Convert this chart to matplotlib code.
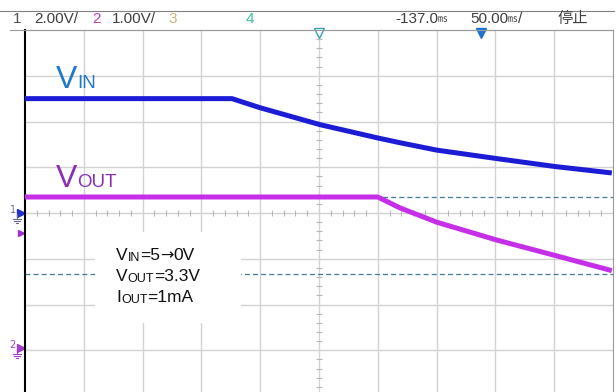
import matplotlib
matplotlib.use('Agg')
import matplotlib.pyplot as plt
from matplotlib.transforms import IdentityTransform
from matplotlib.patches import Rectangle
from matplotlib import font_manager

W, H = 616, 392

# time in ms from the left edge of the screen (50 ms/div, 10 div)
t_vin = [0, 176, 200, 251, 300, 319, 350, 401, 451, 499]
v_vin = [5.0, 5.0, 4.60, 3.86, 3.28, 3.07, 2.75, 2.38, 2.03, 1.75]
t_vout = [0, 300, 319, 350, 401, 451, 499]
v_vout = [3.3, 3.3, 3.06, 2.75, 2.36, 2.02, 1.69]

# channel settings: volts per division and ground offset in divisions
ch1_scale, ch1_offset = 2.0, 0.0
ch2_scale, ch2_offset = 1.0, -2.95
cursor_levels = [3.3, 1.62]   # ch2 volts

ms_per_div = 50
n_xdiv = 10

header_left = [("1", 13, '#505050'), ("2.00V/", 34, '#404040'),
               ("2", 92, '#c040c0'), ("1.00V/", 112, '#404040'),
               ("3", 168, '#c8b478'), ("4", 246, '#3cc0a0')]
header_right = [([("-137.0", 11), ("\u33b3", 7)], 395),
                ([("50.00", 11), ("\u33b3", 7), ("/", 11)], 470),
                ([("停止", 11)], 557)]

box_lines = [[("V", 'big'), ("IN", 'sub'), ("=5", 'big'), ("\u2192", 'arrow'), ("0V", 'big')],
             [("V", 'big'), ("OUT", 'sub'), ("=3.3V", 'big')],
             [("I", 'big'), ("OUT", 'sub'), ("=1mA", 'big')]]

installed = {f.name for f in font_manager.fontManager.ttflist}
narrow = 'Liberation Sans Narrow' if 'Liberation Sans Narrow' in installed else 'Liberation Sans'
hdr_family = [narrow, 'Noto Sans CJK SC', 'DejaVu Sans']
lbl_family = ['Liberation Sans', 'DejaVu Sans']

fig = plt.figure(figsize=(W / 100, H / 100), dpi=100)
ax = fig.add_axes([25 / W, 0, (613 - 25) / W, (H - 30) / H])
ax.set_xlim(0, n_xdiv * ms_per_div)
ax.set_ylim(-(H - 213) / 45.75, 4)

grid_c = '#d2d2d2'
for i in range(1, n_xdiv):
    ax.axvline(i * ms_per_div, color=grid_c, lw=1.0, zorder=1)
for j in range(-3, 4):
    ax.axhline(j, color=grid_c, lw=1.0, zorder=1)

# minor ticks on the centre cross
xs = [k * 10 for k in range(1, 50) if k % 5]
ax.plot(xs, [0] * len(xs), '|', ms=4, color='#b8b8b8', mew=0.8, zorder=1)
ys = [k * 0.2 for k in range(-19, 20) if k % 5]
ax.plot([250] * len(ys), ys, '_', ms=4, color='#b8b8b8', mew=0.8, zorder=1)

for lvl in cursor_levels:
    ax.axhline(lvl / ch2_scale + ch2_offset, color='#3d7f98', lw=0.9,
               ls=(0, (4, 2.5)), zorder=2)

ax.plot(t_vin, [v / ch1_scale + ch1_offset for v in v_vin], color='#1c1cd6',
        lw=3.6, solid_capstyle='butt', zorder=4)
ax.plot(t_vout, [v / ch2_scale + ch2_offset for v in v_vout], color='#c62fe8',
        lw=3.6, solid_capstyle='butt', zorder=4)

for s in ['top', 'right']:
    ax.spines[s].set_color('#9a9a9a')
ax.spines['bottom'].set_visible(False)
ax.spines['left'].set_color('black')
ax.spines['left'].set_linewidth(1.5)
ax.set_xticks([])
ax.set_yticks([])

# trigger / position markers along the top border
ax.plot([250], [3.93], marker='v', ms=7, mfc='white', mec='#3aa0b8', mew=1.0,
        clip_on=False, zorder=5)
ax.plot([388], [3.93], marker='v', ms=7, color='#1f72d2', clip_on=False, zorder=5)

# channel ground markers at the left
ax.plot([-3], [-0.44], marker='>', ms=5, color='#a030c8', clip_on=False)


def ground_marker(level, label, color, arrow_color):
    px, py = ax.transData.transform((0, level))
    ax.plot([-3], [level], marker='>', ms=6, color=arrow_color, clip_on=False)
    fig.text(px - 9, py + 3, label, transform=IdentityTransform(), ha='right',
             va='center', fontsize=7, color=color)
    # earth symbol: stem and three shrinking bars
    gx, gy = px - 8, py - 4
    fig.add_artist(plt.Line2D([gx, gx], [gy + 3, gy - 2], transform=IdentityTransform(),
                              color=color, lw=0.8))
    for k, half in enumerate([4, 2.7, 1.4]):
        yb = gy - 2 - 2 * k
        fig.add_artist(plt.Line2D([gx - half, gx + half], [yb, yb],
                                  transform=IdentityTransform(), color=color, lw=0.8))


ground_marker(ch1_offset, "1", '#6a6a8a', '#2030d0')
ground_marker(ch2_offset, "2", '#a040c8', '#a040c8')

# legend box
ax.add_patch(Rectangle((70 / 588, 69 / 362), 146 / 588, 91 / 362, transform=ax.transAxes,
                       facecolor='white', edgecolor='none', zorder=3))

renderer = fig.canvas.get_renderer()

# header bar
fig.add_artist(plt.Line2D([0, 614 / W], [1 - 11 / H] * 2, color='#808080', lw=0.8))
fig.add_artist(plt.Line2D([10 / W, 613 / W], [1 - 30 / H] * 2, color='#9a9a9a', lw=0.8))
for txt, x, c in header_left:
    fig.text(x, H - 19, txt, transform=IdentityTransform(), ha='left', va='center',
             fontsize=11, color=c, family=hdr_family)
for pieces, x in header_right:
    for txt, size in pieces:
        t = fig.text(x, H - 19, txt, transform=IdentityTransform(), ha='left',
                     va='center', fontsize=size, color='#404040', family=hdr_family)
        x += t.get_window_extent(renderer).width


def put_parts(x, y, parts, color, sizes, sub_drop=0):
    # draw a run of text pieces one after another, like a subscript label
    for txt, kind in parts:
        dy = -sub_drop if kind == 'sub' else 0
        fam = ['DejaVu Sans'] if kind == 'arrow' else lbl_family
        t = fig.text(x, y + dy, txt, transform=IdentityTransform(), ha='left',
                     va='baseline', fontsize=sizes.get(kind, sizes['big']), color=color,
                     family=fam, zorder=6)
        x += t.get_window_extent(renderer).width


put_parts(56, H - 88, [("V", 'big'), ("IN", 'sub')], '#1f78c8', {'big': 23, 'sub': 13.5})
put_parts(56, H - 187, [("V", 'big'), ("OUT", 'sub')], '#8b2fb5', {'big': 23, 'sub': 13.5})
for k, parts in enumerate(box_lines):
    put_parts(116, H - (260 + 21 * k), parts, '#101010',
              {'big': 12.5, 'sub': 9, 'arrow': 11.5}, sub_drop=1)

fig.savefig('out.png', dpi=100)
